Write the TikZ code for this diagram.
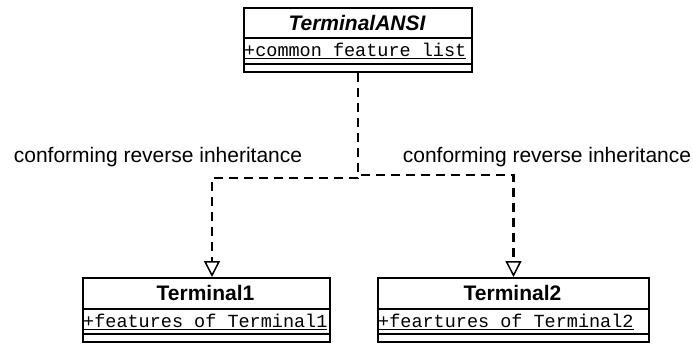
\documentclass[tikz,border=0pt]{standalone}
\usepackage{fontspec}
\setmainfont{Liberation Sans}
\newfontfamily\monof{Liberation Mono}
\usetikzlibrary{arrows.meta}
\begin{document}
\begin{tikzpicture}[x=1pt,y=-1pt,
  classbox/.style={draw, line width=2pt, rectangle, inner sep=0pt, anchor=north west},
  divider/.style={line width=1.8pt},
  titletext/.style={font=\fontsize{21}{24}\selectfont\bfseries, inner sep=0pt},
  attrtext/.style={font=\monof\fontsize{18.5}{20}\selectfont, inner sep=0pt, anchor=west},
  labeltext/.style={font=\fontsize{21}{24}\selectfont, inner sep=0pt},
  realize/.style={line width=2.2pt, dash pattern=on 9pt off 6pt,
    -{Triangle[open, length=16pt, width=16pt, line width=1.5pt, fill=white]}}]
\useasboundingbox[fill=white] (0,0) rectangle (693,343);

% abstract parent class
\node[classbox, minimum width=228pt, minimum height=64pt] (ansi) at (243,7) {};
\draw[divider] (243,38) -- (471,38);
\draw[divider] (243,64) -- (471,64);
\node[titletext, font=\fontsize{21}{24}\selectfont\bfseries\itshape] (ansiname) at (357,22.5) {TerminalANSI};
\node[attrtext] (ansiattr) at (244,51) {\underline{+common feature list}};

% first concrete class
\node[classbox, minimum width=247pt, minimum height=64pt] (t1) at (82,277) {};
\draw[divider] (82,309) -- (329,309);
\draw[divider] (82,334) -- (329,334);
\node[titletext] (t1name) at (205.5,293) {Terminal1};
\node[attrtext] (t1attr) at (83,322) {\underline{+features of Terminal1}};

% second concrete class
\node[classbox, minimum width=271pt, minimum height=64pt] (t2) at (377,277) {};
\draw[divider] (377,309) -- (648,309);
\draw[divider] (377,334) -- (648,334);
\node[titletext] (t2name) at (512.5,293) {Terminal2};
\node[attrtext] (t2attr) at (378,322) {\underline{+feartures of Terminal2}};

% realization connectors
\draw[realize] (ansi.south) -- ++(0,105) -| ([xshift=5.5pt]t1.north);
\draw[realize] (ansi.south) -- ++(0,102) -| (t2.north);

\node[labeltext] (lbl1) at (158,157) {conforming reverse inheritance};
\node[labeltext] (lbl2) at (547,157) {conforming reverse inheritance};
\end{tikzpicture}
\end{document}
